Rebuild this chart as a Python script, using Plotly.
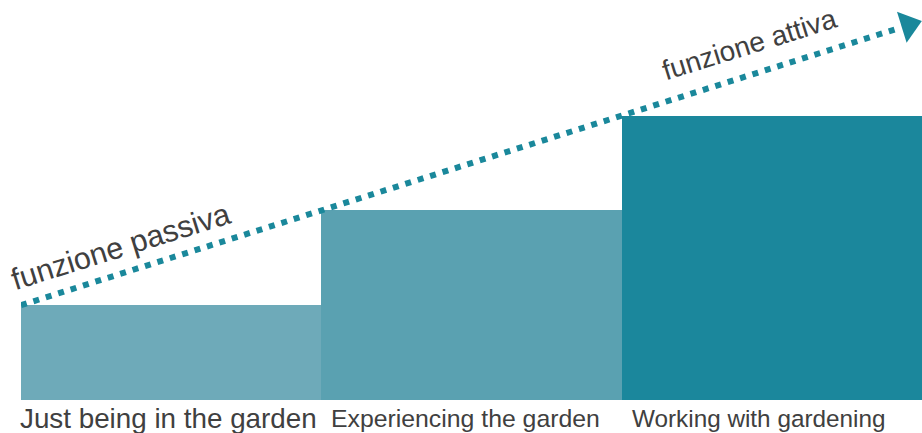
import plotly.graph_objects as go

# ---- data ----
categories = ["Just being in the garden", "Experiencing the garden", "Working with gardening"]
values = [1, 2, 3]
bar_colors = ["#6eaab9", "#5aa1b1", "#1b879c"]
label_sizes = [27.8, 24.8, 24.3]
label_shift = [-3, -6, -13]
line_label_passive = "funzione passiva"
line_label_active = "funzione attiva"

LINE_COLOR = "#1a889b"
TEXT_COLOR = "#404040"
FONT = "Liberation Sans"

xpos = list(range(len(categories)))

fig = go.Figure()
fig.add_trace(go.Bar(
    x=xpos, y=values, width=1.0,
    marker=dict(color=bar_colors, line=dict(width=0)),
    hoverinfo="skip", showlegend=False,
))

# dotted trend line through the top-left corners of the bars
line_x = [i - 0.5 for i in xpos] + [2.41]
line_y = [v for v in values] + [values[-1] + (2.41 - 1.5)]
fig.add_trace(go.Scatter(
    x=line_x, y=line_y, mode="lines",
    line=dict(color=LINE_COLOR, width=6, dash="6px,7px"),
    hoverinfo="skip", showlegend=False,
))
# arrow head
ax_ = 2.455
fig.add_trace(go.Scatter(
    x=[ax_], y=[values[-1] + (ax_ - 1.5)], mode="markers",
    marker=dict(symbol="triangle-right", size=28, angle=-17.3, color=LINE_COLOR,
                line=dict(width=0)),
    hoverinfo="skip", showlegend=False,
))

annotations = []
for i, (c, s, sh) in enumerate(zip(categories, label_sizes, label_shift)):
    annotations.append(dict(
        x=i, y=-0.045, xref="x", yref="paper", text=c, showarrow=False,
        xanchor="center", yanchor="middle", xshift=sh,
        font=dict(family=FONT, size=s, color=TEXT_COLOR),
    ))
annotations.append(dict(
    x=-0.17, y=1.62, xref="x", yref="y", text=line_label_passive, showarrow=False,
    xanchor="center", yanchor="middle", textangle=-17.3,
    font=dict(family=FONT, size=30.5, color=TEXT_COLOR),
))
annotations.append(dict(
    x=1.925, y=3.75, xref="x", yref="y", text=line_label_active, showarrow=False,
    xanchor="center", yanchor="middle", textangle=-17.3,
    font=dict(family=FONT, size=28, color=TEXT_COLOR),
))

fig.update_layout(
    width=922, height=433,
    margin=dict(l=21, r=0, t=0, b=33),
    paper_bgcolor="white", plot_bgcolor="white",
    bargap=0,
    xaxis=dict(range=[-0.5, 2.5], visible=False, fixedrange=True),
    yaxis=dict(range=[0, 4.22], visible=False, fixedrange=True),
    annotations=annotations,
)

fig.write_html(
    "out.html",
    config={"displayModeBar": False},
    post_script="document.body.style.margin='0';document.body.style.overflow='hidden';",
)
